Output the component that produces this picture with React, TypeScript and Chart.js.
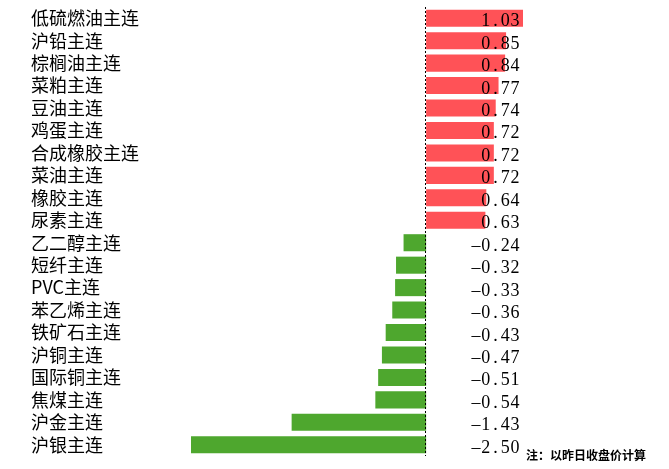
import React, { useEffect, useRef } from "react";
import { Chart, registerables } from "chart.js";

Chart.register(...registerables);

const categories = [
  "低硫燃油主连", "沪铅主连", "棕榈油主连", "菜粕主连", "豆油主连",
  "鸡蛋主连", "合成橡胶主连", "菜油主连", "橡胶主连", "尿素主连",
  "乙二醇主连", "短纤主连", "PVC主连", "苯乙烯主连", "铁矿石主连",
  "沪铜主连", "国际铜主连", "焦煤主连", "沪金主连", "沪银主连",
];
const values = [
  1.03, 0.85, 0.84, 0.77, 0.74, 0.72, 0.72, 0.72, 0.64, 0.63,
  -0.24, -0.32, -0.33, -0.36, -0.43, -0.47, -0.51, -0.54, -1.43, -2.5,
];
const note = "注：以昨日收盘价计算";

const RED = "#FF5257";
const GREEN = "#4EA72E";

export default function App() {
  const ref = useRef<HTMLCanvasElement | null>(null);
  useEffect(() => {
    if (!ref.current) return;
    const overlay = {
      id: "overlay",
      afterDatasetsDraw(chart: any) {
        const { ctx, chartArea, scales } = chart;
        const x0 = scales.x.getPixelForValue(0);
        ctx.save();
        ctx.strokeStyle = "#000";
        ctx.lineWidth = 1;
        ctx.setLineDash([2, 2]);
        ctx.beginPath();
        ctx.moveTo(Math.round(x0) - 0.5, chartArea.top);
        ctx.lineTo(Math.round(x0) - 0.5, chartArea.bottom);
        ctx.stroke();
        ctx.setLineDash([]);
        ctx.fillStyle = "#000";
        ctx.font = "18px 'Liberation Serif', serif";
        ctx.textAlign = "center";
        ctx.textBaseline = "alphabetic";
        const slot = 9.8;
        const right = 520;
        values.forEach((v, i) => {
          const y = scales.y.getPixelForValue(i);
          const s = v.toFixed(2);
          const n = s.length;
          for (let k = 0; k < n; k++) {
            const cx = right - (n - k - 0.5) * slot;
            const ch = s[k] === "-" ? "\u2013" : s[k];
            ctx.fillText(ch, cx, y + 8);
          }
        });
        ctx.restore();
      },
    };
    const chart = new Chart(ref.current, {
      type: "bar",
      data: {
        labels: categories,
        datasets: [
          {
            data: values,
            backgroundColor: values.map((v) => (v >= 0 ? RED : GREEN)),
            barPercentage: 0.76,
            categoryPercentage: 1,
          },
        ],
      },
      options: {
        indexAxis: "y",
        animation: false,
        responsive: false,
        layout: { padding: { left: 31, right: 146, top: 7, bottom: 13 } },
        plugins: {
          legend: { display: false },
          tooltip: { enabled: false },
        },
        scales: {
          x: {
            display: false,
            min: -2.5,
            max: 1.03,
            grid: { display: false },
          },
          y: {
            grid: { display: false },
            border: { display: false },
            afterFit(scale: any) {
              scale.width = 160;
              scale.paddingTop = 0;
              scale.paddingBottom = 0;
            },
            ticks: {
              crossAlign: "far",
              padding: 0,
              color: "#000",
              font: { size: 18, family: "'Noto Sans CJK SC', sans-serif" },
              autoSkip: false,
            },
          },
        },
      },
      plugins: [overlay],
    });
    return () => chart.destroy();
  }, []);
  return (
    <div style={{ position: "fixed", left: 0, top: 0, width: 669, height: 469, background: "#fff" }}>
      <canvas ref={ref} width={669} height={469} style={{ width: 669, height: 469, display: "block" }} />
      <div
        style={{
          position: "absolute",
          left: 526,
          top: 447,
          fontSize: 12,
          fontWeight: "bold",
          fontFamily: "'Noto Sans CJK SC', sans-serif",
          lineHeight: "16px",
          whiteSpace: "nowrap",
          color: "#000",
        }}
      >
        {note}
      </div>
    </div>
  );
}
